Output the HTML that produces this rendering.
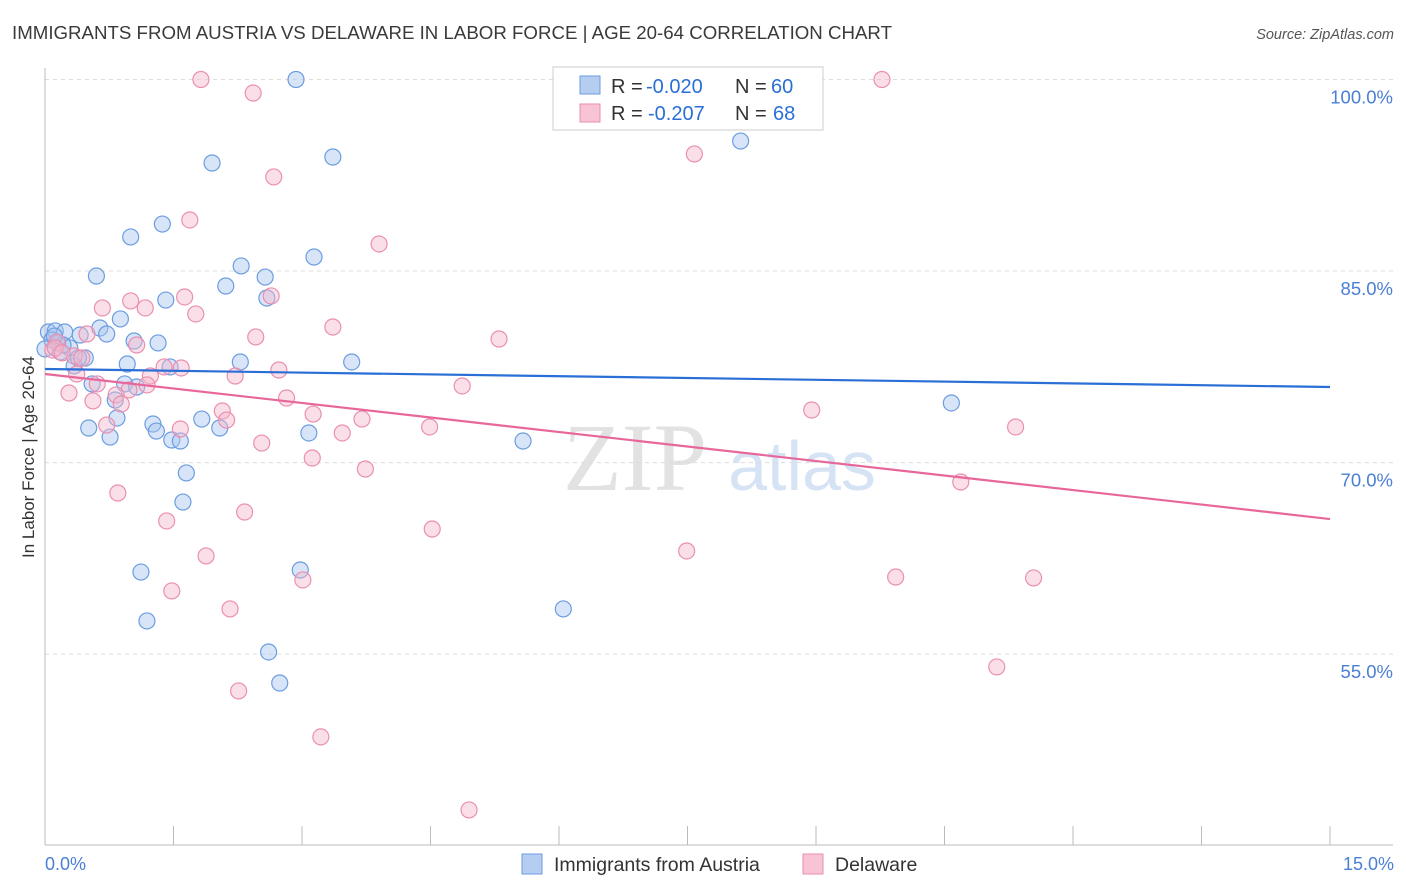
<!DOCTYPE html>
<html><head><meta charset="utf-8"><style>
body{margin:0;background:#fff;font-family:"Liberation Sans",sans-serif;}
svg{display:block}
</style></head><body>
<svg id="chart" width="1406" height="892">
<text x="12" y="39" font-size="18.5" textLength="880" lengthAdjust="spacingAndGlyphs" fill="#3a3a3a">IMMIGRANTS FROM AUSTRIA VS DELAWARE IN LABOR FORCE | AGE 20-64 CORRELATION CHART</text>
<text x="1394" y="39" font-size="14.5" fill="#555" font-style="italic" text-anchor="end">Source: ZipAtlas.com</text>
<g>
<text x="635" y="490" font-size="96" font-family="Liberation Serif,serif" fill="#e2e2e2" text-anchor="middle">ZIP</text>
<text x="802" y="490" font-size="70" fill="#d6e3f5" text-anchor="middle">atlas</text>
</g>
<g id="grid"></g><g id="axes"></g><g id="pts"></g><g id="lines"></g>
<text transform="translate(34,457) rotate(-90)" font-size="17" fill="#333" text-anchor="middle">In Labor Force | Age 20-64</text>
<text x="45" y="870" font-size="18" fill="#4a7fd4">0.0%</text>
<text x="1394" y="870" font-size="18" fill="#4a7fd4" text-anchor="end">15.0%</text>
<g>
<rect x="553" y="67" width="270" height="63" fill="#fff" stroke="#ccc"/>
<rect x="580" y="76" width="20" height="18" fill="#b5cdf1" stroke="#6b9de0"/>
<rect x="580" y="104" width="20" height="18" fill="#f8c3d4" stroke="#ea8fb0"/>
<text x="611" y="93" font-size="20" fill="#333">R =</text>
<text x="646" y="93" font-size="20" fill="#2a6fd6">-0.020</text>
<text x="735" y="93" font-size="20" fill="#333">N =</text>
<text x="771" y="93" font-size="20" fill="#2a6fd6">60</text>
<text x="611" y="120" font-size="20" fill="#333">R =</text>
<text x="648" y="120" font-size="20" fill="#2a6fd6">-0.207</text>
<text x="735" y="120" font-size="20" fill="#333">N =</text>
<text x="773" y="120" font-size="20" fill="#2a6fd6">68</text>
</g>
<g>
<rect x="522" y="854" width="20" height="20" fill="#b5cdf1" stroke="#6b9de0"/>
<text x="554" y="871" font-size="19.5" fill="#333">Immigrants from Austria</text>
<rect x="803" y="854" width="20" height="20" fill="#f8c3d4" stroke="#ea8fb0"/>
<text x="835" y="871" font-size="19.5" fill="#333">Delaware</text>
</g>
</svg>
<script>
const yTicks=[100,85,70,55];
const yTickLabels=["100.0%","85.0%","70.0%","55.0%"];
const blueX=[2.93,8.12,3.36,1.95,1.37,1.00,3.14,2.29,2.57,0.60,2.11,2.59,1.41,0.88,0.64,0.72,0.04,0.12,0.23,0.41,0.08,0.15,0.29,0.18,0.47,0.34,0.96,2.28,3.58,1.32,1.04,1.46,0.55,0.93,1.07,0.82,0.84,1.83,1.26,1.30,0.51,2.04,3.08,0.76,1.48,1.58,5.58,10.58,1.65,1.61,1.12,2.98,6.05,1.19,2.61,2.74,0.39,0.21,0.11,0.0];
const blueY=[100.0,95.18,93.93,93.46,88.68,87.67,86.10,85.40,84.53,84.61,83.83,82.89,82.73,81.25,80.54,80.07,80.23,80.31,80.23,79.99,79.60,79.37,78.98,78.66,78.19,77.57,77.72,77.88,77.88,79.37,79.52,77.49,76.16,76.16,75.92,74.90,73.49,73.41,73.02,72.47,72.71,72.71,72.32,72.00,71.77,71.69,71.69,74.67,69.19,66.91,61.43,61.59,58.54,57.60,55.17,52.74,78.19,79.21,79.91,78.9];
const pinkX=[1.82,9.77,2.43,7.58,2.67,1.69,3.90,2.64,1.63,1.00,1.17,0.67,1.76,3.36,2.46,0.49,5.30,1.07,0.14,0.09,0.34,0.43,1.39,1.59,2.73,2.22,1.23,0.37,0.61,1.19,4.87,0.98,0.83,0.28,0.56,2.82,0.89,8.95,2.07,3.13,3.70,2.12,0.72,11.33,4.49,3.47,1.58,2.53,3.12,3.74,10.69,0.85,2.33,1.42,4.52,7.49,1.88,9.93,11.54,3.01,1.48,2.16,11.11,2.26,3.22,4.95,0.12,0.20];
const pinkY=[100.0,100.0,98.94,94.17,92.37,89.00,87.12,83.05,82.97,82.66,82.11,82.11,81.64,80.62,79.84,80.07,79.68,79.21,79.44,78.82,78.35,78.19,77.49,77.41,77.25,76.78,76.78,76.94,76.16,76.08,76.00,75.69,75.30,75.45,74.83,75.06,74.59,74.12,74.04,73.80,73.41,73.33,72.94,72.79,72.79,72.32,72.63,71.53,70.36,69.50,68.48,67.62,66.13,65.43,64.80,63.08,62.69,61.04,60.97,60.81,59.95,58.54,54.00,52.12,48.52,42.80,78.98,78.59];
const blueTrend=[77.33,75.92];
const pinkTrend=[76.94,65.58];
const NS="http://www.w3.org/2000/svg";
const X0=45,X1=1330,Y0=79.5;
function sx(v){return X0+(v/15)*(X1-X0);}
function sy(v){return Y0+(100-v)*12.77;}
function mk(tag,attrs,parent){const e=document.createElementNS(NS,tag);for(const k in attrs)e.setAttribute(k,attrs[k]);parent.appendChild(e);return e;}
const grid=document.getElementById('grid');
yTicks.forEach((t,i)=>{
  const l=mk('line',{x1:X0,x2:1393,y1:sy(t),y2:sy(t),stroke:'#dcdcdc','stroke-dasharray':'4,4'},grid);
  
  
  const tx=mk('text',{x:1393,y:sy(t)+24,'font-size':18.5,fill:'#4a7fd4','text-anchor':'end'},grid);
  tx.textContent=yTickLabels[i];
  
  
});
const axes=document.getElementById('axes');
const ya=mk('line',{x1:X0,x2:X0,y1:68,y2:845,stroke:'#bbb'},axes);


const xa=mk('line',{x1:X0,x2:1393,y1:845,y2:845,stroke:'#bbb'},axes);


for(let i=0;i<=10;i++){
  const t=mk('line',{x1:sx(i*1.5),x2:sx(i*1.5),y1:826,y2:845,stroke:'#bbb'},axes);
  
  
}
const pts=document.getElementById('pts');
function drawPts(xs,ys,fill,stroke,name){
  xs.forEach((x,i)=>{
    const c=mk('circle',{cx:sx(x),cy:sy(ys[i]),r:8,fill:fill,'fill-opacity':0.45,stroke:stroke,'stroke-width':1.2},pts);
    
    
  });
}
drawPts(blueX,blueY,'#a9c6ef','#6b9de0','point-austria');
drawPts(pinkX,pinkY,'#f5b8cc','#ea8fb0','point-delaware');
const lines=document.getElementById('lines');
const bl=mk('line',{x1:sx(0),x2:sx(15),y1:sy(blueTrend[0]),y2:sy(blueTrend[1]),stroke:'#2a6fd6','stroke-width':2.2},lines);


const pl=mk('line',{x1:sx(0),x2:sx(15),y1:sy(pinkTrend[0]),y2:sy(pinkTrend[1]),stroke:'#e8679a','stroke-width':2.2},lines);


</script>
</body></html>
